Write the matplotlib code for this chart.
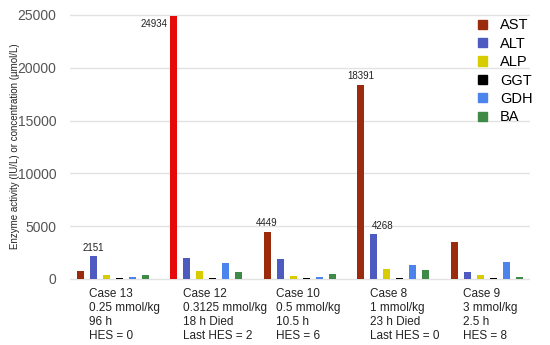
import numpy as np
import matplotlib
matplotlib.use("Agg")
import matplotlib.pyplot as plt
from matplotlib.patches import Patch

plt.rcParams["font.family"] = ["Liberation Sans", "DejaVu Sans"]

# ---------------------------------------------------------
# Data
# ---------------------------------------------------------
cases = ["Case 13\n0.25 mmol/kg\n96 h\nHES = 0",
         "Case 12\n0.3125 mmol/kg\n18 h Died\nLast HES = 2",
         "Case 10\n0.5 mmol/kg\n10.5 h\nHES = 6",
         "Case 8\n1 mmol/kg\n23 h Died\nLast HES = 0",
         "Case 9\n3 mmol/kg\n2.5 h\nHES = 8"]

series = ["AST", "ALT", "ALP", "GGT", "GDH", "BA"]

ast = [800, 24934, 4449, 18391, 3500]
alt = [2151, 2000, 1850, 4268, 700]
alp = [400, 750, 300, 900, 400]
ggt = [100, 100, 100, 100, 100]
gdh = [200, 1500, 200, 1300, 1600]
ba = [350, 650, 500, 850, 200]

# values printed above bars: (series index, case index)
labelled = [(1, 0), (0, 1), (0, 2), (0, 3), (1, 3)]

colors = ["#9c2a0c", "#4d5abf", "#d6cc00", "#000000", "#4c84ee", "#3f8a47"]
highlight = "#e60a0a"  # case 12 AST bar is bright red

values = [ast, alt, alp, ggt, gdh, ba]

# ---------------------------------------------------------
# Plot
# ---------------------------------------------------------
fig = plt.figure(figsize=(5.5, 3.45), dpi=100)
ax = fig.add_axes([0.1273, 0.1838, 0.836, 0.785])

x = np.arange(len(cases))
step = 0.139
width = 0.075

for i, (name, vals) in enumerate(zip(series, values)):
    cols = [colors[i]] * len(cases)
    if name == "AST":
        cols[1] = highlight
    ax.bar(x + i * step, vals, width=width, color=cols, zorder=3)

for si, ci in labelled:
    v = values[si][ci]
    xp = x[ci] + si * step
    if si == 0 and ci == 1:
        ax.text(xp - 0.06, v - 300, str(v), ha="right", va="top", fontsize=7, color="#222222")
    elif si == 1 and ci == 3:
        ax.text(xp - 0.02, v + 250, str(v), ha="left", va="bottom", fontsize=7, color="#222222")
    else:
        ax.text(xp, v + 350, str(v), ha="center", va="bottom", fontsize=7, color="#222222")

# case labels under each group
for xi, lab in zip(x, cases):
    ax.text(xi + 0.1, -900, lab, ha="left", va="top", fontsize=8.5, color="#222222",
            linespacing=1.2, clip_on=False)

ax.set_xlim(-0.107, 4.81)
ax.set_ylim(-250, 25400)
ax.set_yticks([0, 5000, 10000, 15000, 20000, 25000])
ax.set_xticks([])
ax.tick_params(axis="y", length=0, labelsize=10, labelcolor="#555555", pad=10)
ax.grid(axis="y", color="#e2e2e2", linewidth=1, zorder=0)
for s in ax.spines.values():
    s.set_visible(False)

fig.text(0.027, 0.575, "Enzyme activity (IU/L) or concentration (\u00b5mol/L)",
         rotation=90, ha="center", va="center", fontsize=7, color="#222222")

handles = [Patch(color=c) for c in colors]
ax.legend(handles, series, loc="upper right", bbox_to_anchor=(1.035, 1.02),
          frameon=False, fontsize=10.5, handlelength=0.6, handleheight=0.6,
          labelspacing=0.3, handletextpad=0.9)

plt.savefig("out.png", dpi=100)
plt.close()
